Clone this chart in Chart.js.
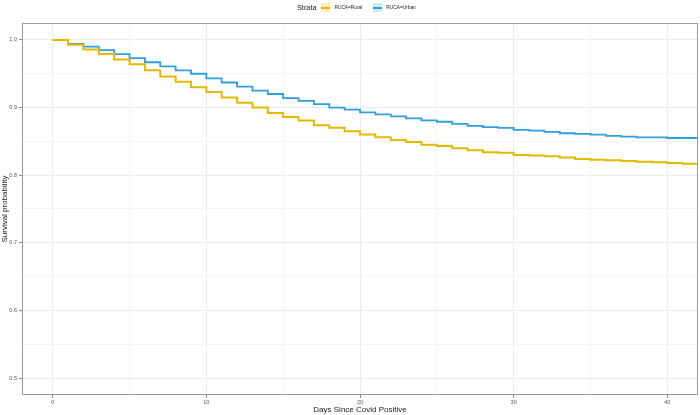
<!DOCTYPE html>
<html>
<head>
<meta charset="utf-8">
<script src="https://cdn.jsdelivr.net/npm/chart.js@4"></script>
<style>
  body { margin: 0; background: #fff; }
  #wrap { position: relative; width: 700px; height: 415px; }
  #leyenda { position: absolute; top: 3px; left: 297px; white-space: nowrap;
    font-family: "Liberation Sans", Arial, sans-serif; color: #1a1a1a; font-size: 4.8px; }
  #leyenda span { display: inline-block; vertical-align: middle; }
  .titulo { font-size: 7.3px; margin-right: 5px; }
  .clave { width: 9px; height: 9px; position: relative; margin-right: 4px; }
  .clave i { position: absolute; left: 0; right: 0; top: 3.5px; height: 2px; }
  .etq { margin-right: 11px; }
</style>
</head>
<body>
<div id="wrap">
  <div id="leyenda"><span class="titulo">Strata</span><span class="clave" style="background:#fbefc1"><i style="background:#E7B800"></i></span><span class="etq">RUCA=Rural</span><span class="clave" style="background:#cde8f7"><i style="background:#2E9FDF"></i></span><span class="etq" style="margin-right:0">RUCA=Urban</span></div>
  <canvas id="grafico" width="700" height="415"></canvas>
</div>
<script>
// Datos
const dias = [0, 1, 2, 3, 4, 5, 6, 7, 8, 9, 10, 11, 12, 13, 14, 15, 16, 17, 18, 19, 20,
  21, 22, 23, 24, 25, 26, 27, 28, 29, 30, 31, 32, 33, 34, 35, 36, 37, 38, 39, 40, 41, 43];
const rural = [1.0, 0.993, 0.986, 0.979, 0.971, 0.964, 0.955, 0.946, 0.938, 0.930, 0.923,
  0.915, 0.907, 0.900, 0.892, 0.886, 0.881, 0.874, 0.870, 0.865, 0.860, 0.856, 0.852,
  0.849, 0.845, 0.843, 0.840, 0.837, 0.834, 0.833, 0.830, 0.829, 0.828, 0.826, 0.824,
  0.823, 0.822, 0.821, 0.820, 0.819, 0.818, 0.817, 0.817];
const urbano = [1.0, 0.994, 0.990, 0.985, 0.979, 0.973, 0.967, 0.961, 0.955, 0.950, 0.943,
  0.937, 0.931, 0.925, 0.920, 0.914, 0.910, 0.905, 0.900, 0.897, 0.893, 0.890, 0.887,
  0.884, 0.881, 0.879, 0.876, 0.873, 0.871, 0.870, 0.867, 0.866, 0.864, 0.862, 0.861,
  0.860, 0.858, 0.857, 0.856, 0.856, 0.855, 0.855, 0.855];
const ticksX = [0, 10, 20, 30, 40];
const ticksY = [0.5, 0.6, 0.7, 0.8, 0.9, 1.0];

const esMayorX = v => ticksX.some(t => Math.abs(t - v) < 1e-6);
const esMayorY = v => ticksY.some(t => Math.abs(t - v) < 1e-6);

// marcas mayores + menores (punto medio entre mayores, como ggplot)
function conMenores(mayores) {
  const out = [];
  mayores.forEach((v, i) => {
    out.push({ value: v });
    if (i < mayores.length - 1) out.push({ value: (v + mayores[i + 1]) / 2 });
  });
  return out;
}

// Borde del panel (theme_bw)
const bordePanel = {
  id: 'bordePanel',
  afterDraw(chart) {
    const a = chart.chartArea;
    const ctx = chart.ctx;
    ctx.save();
    ctx.strokeStyle = '#9a9a9a';
    ctx.lineWidth = 1;
    ctx.strokeRect(a.left + 0.5, a.top + 0.5, a.right - a.left - 1, a.bottom - a.top - 1);
    ctx.restore();
  }
};

const fuente = { family: '"Liberation Sans", Arial, sans-serif', size: 5.5 };
const fuenteTitulo = { family: '"Liberation Sans", Arial, sans-serif', size: 8 };

const ctx = document.getElementById('grafico').getContext('2d');
new Chart(ctx, {
  type: 'line',
  data: {
    datasets: [
      {
        label: 'RUCA=Rural',
        data: dias.map((d, i) => ({ x: d, y: rural[i] })),
        borderColor: '#E7B800',
        borderWidth: 2,
        stepped: true,
        pointRadius: 0,
        fill: false
      },
      {
        label: 'RUCA=Urban',
        data: dias.map((d, i) => ({ x: d, y: urbano[i] })),
        borderColor: '#2E9FDF',
        borderWidth: 1.8,
        stepped: true,
        pointRadius: 0,
        fill: false
      }
    ]
  },
  options: {
    responsive: false,
    animation: false,
    layout: { padding: { top: 23, right: 2, left: 0, bottom: 0 } },
    plugins: { legend: { display: false }, tooltip: { enabled: false } },
    scales: {
      x: {
        type: 'linear',
        min: -2,
        max: 42,
        afterBuildTicks: s => { s.ticks = conMenores(ticksX); },
        afterFit: s => { s.height = 20; },
        border: { display: false },
        grid: {
          color: c => esMayorX(c.tick.value) ? '#ebebeb' : '#f4f4f4',
          tickColor: c => esMayorX(c.tick.value) ? '#888' : 'rgba(0,0,0,0)',
          tickLength: 3,
          lineWidth: 1
        },
        ticks: {
          maxRotation: 0,
          autoSkip: false,
          padding: 1,
          color: '#555',
          font: fuente,
          callback: v => esMayorX(v) ? String(v) : ''
        },
        title: {
          display: true,
          text: 'Days Since Covid Positive',
          color: '#1a1a1a',
          font: fuenteTitulo,
          padding: { top: 0, bottom: 0 }
        }
      },
      y: {
        min: 0.475,
        max: 1.025,
        afterBuildTicks: s => { s.ticks = conMenores(ticksY); },
        afterFit: s => { s.width = 22; },
        border: { display: false },
        grid: {
          color: c => esMayorY(c.tick.value) ? '#ebebeb' : '#f4f4f4',
          tickColor: c => esMayorY(c.tick.value) ? '#888' : 'rgba(0,0,0,0)',
          tickLength: 3,
          lineWidth: 1
        },
        ticks: {
          autoSkip: false,
          padding: 2,
          color: '#555',
          font: fuente,
          callback: v => esMayorY(v) ? v.toFixed(1) : ''
        },
        title: {
          display: true,
          text: 'Survival probability',
          color: '#1a1a1a',
          font: fuenteTitulo,
          padding: { top: 0, bottom: 0 }
        }
      }
    }
  },
  plugins: [bordePanel]
});
</script>
</body>
</html>
